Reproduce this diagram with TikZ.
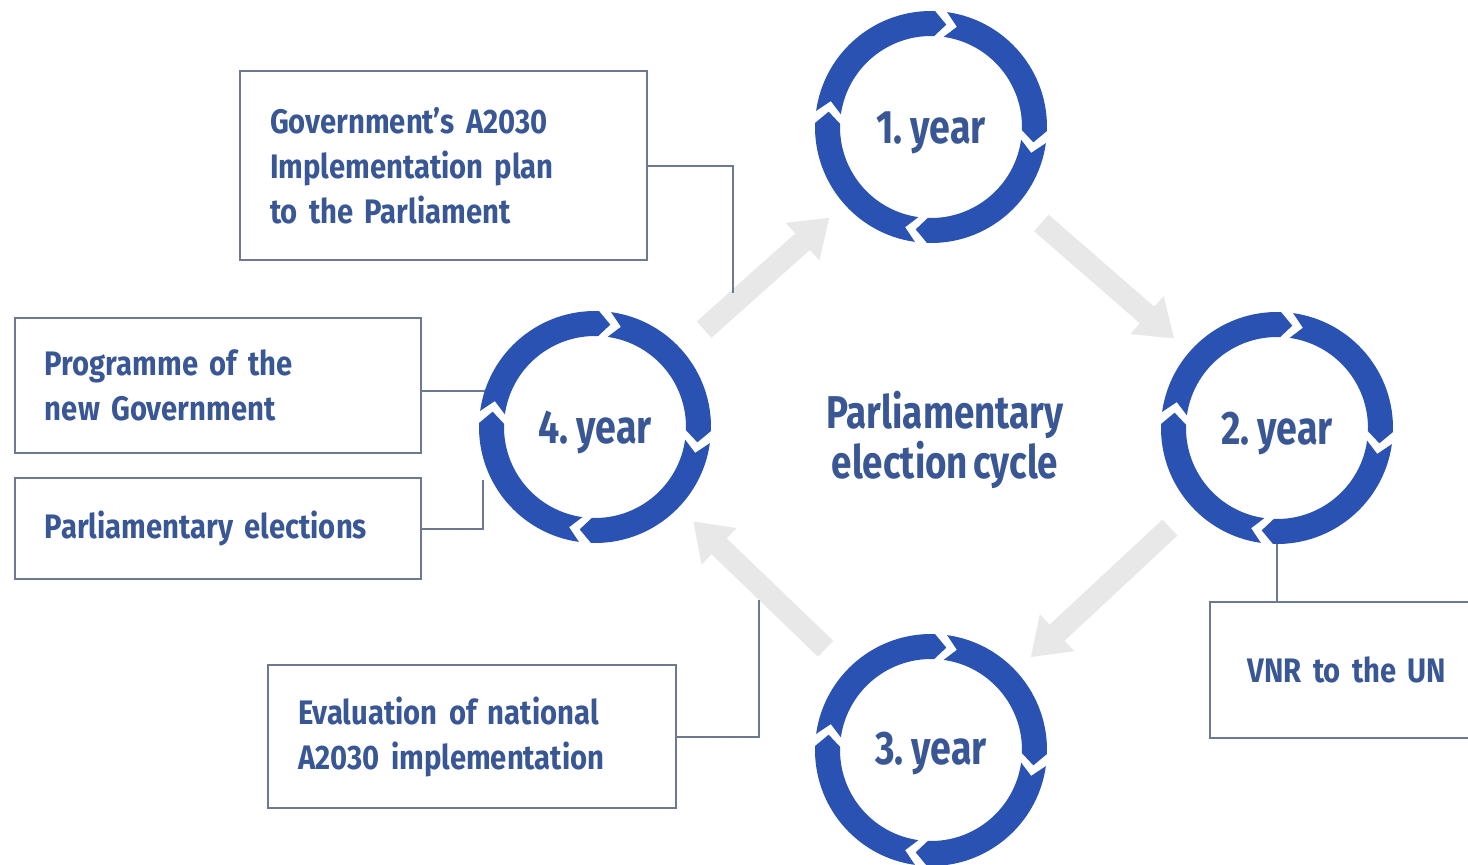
\documentclass[tikz,border=0pt]{standalone}
\usepackage{fontspec}
\setmainfont{Fira Sans}[FakeStretch=0.86, WordSpace=0.5]
\newfontfamily\bigfont{Fira Sans}[FakeStretch=0.8, WordSpace=0.55]
\usetikzlibrary{arrows.meta,calc}
\definecolor{ringblue}{HTML}{2952B3}
\definecolor{txtblue}{HTML}{3A5795}
\definecolor{boxline}{HTML}{6E7890}
\definecolor{arrowgray}{HTML}{E8E8E8}
\tikzset{
  ring/.pic={
    \foreach \g in {85,-5,-95,175}{
      \pgfmathsetmacro\s{\g-3}
      \pgfmathsetmacro\e{\g-90+3}
      \fill[ringblue] (\s:116pt) arc[start angle=\s, end angle=\e, radius=116pt]
        -- ({\e-6.5}:103.5pt) -- (\e:91pt) arc[start angle=\e, end angle=\s, radius=91pt]
        -- ({\s-6.5}:103.5pt) -- cycle;
    }
  },
  yearc/.style={circle, minimum size=232pt, inner sep=0pt},
  yearlabel/.style={anchor=base, text=txtblue, font=\bigfont\bfseries\fontsize{47}{50}\selectfont},
  centerlabel/.style={align=center, text=txtblue, font=\bigfont\bfseries\fontsize{46}{50}\selectfont},
  infobox/.style={draw=boxline, line width=2pt, fill=white, rectangle, inner xsep=30pt,
    inner ysep=0pt, align=left, text=txtblue, font=\bfseries\fontsize{34}{45}\selectfont},
  grayarr/.style={draw=arrowgray, line width=22pt, -{Triangle[length=36pt,width=48pt]},
    shorten <=30pt, shorten >=20pt},
  conn/.style={draw=boxline, line width=2pt}
}
\begin{document}
\begin{tikzpicture}[x=1pt,y=1pt]
\useasboundingbox[fill=white] (0,0) rectangle (1468,-865);
% year circles (geometry)
\node[yearc] (y1) at (931,-127) {};
\node[yearc] (y2) at (1277,-428) {};
\node[yearc] (y3) at (931,-750) {};
\node[yearc] (y4) at (595,-427) {};
% gray cycle arrows
\draw[grayarr] (y4) -- (y1);
\draw[grayarr] (y1) -- (y2);
\draw[grayarr] (y2) -- (y3);
\draw[grayarr] (y3) -- (y4);
% boxes
\node[infobox, minimum width=407pt, minimum height=189pt, text width=347pt] (b1) at (443.5,-165.5)
  {Government’s A2030\\Implementation plan\\to the Parliament};
\node[infobox, minimum width=406pt, minimum height=135pt, text width=346pt] (b2) at (218,-385.5)
  {Programme of the\\new Government};
\node[infobox, minimum width=406pt, minimum height=101pt, text width=346pt] (b3) at (218,-528.5)
  {Parliamentary elections};
\node[infobox, minimum width=408pt, minimum height=143pt, text width=348pt] (b4) at (472,-736.5)
  {Evaluation of national\\A2030 implementation};
\node[infobox, align=center, minimum width=274pt, minimum height=136pt, text width=214pt] (vnr) at (1347,-670)
  {VNR to the UN};
% connectors
\coordinate (k1) at (733,-293);
\coordinate (k3) at (483,-480);
\coordinate (k4) at (759,-600);
\draw[conn] (b1.east) -| (k1);
\draw[conn] ([yshift=-5pt]b2.east) -- ([yshift=-5pt,xshift=6pt]b2.east -| y4.west);
\draw[conn] (b3.east) -| (k3);
\draw[conn] (b4.east) -| (k4);
\draw[conn] (y2.south) -- (y2.south |- vnr.north);
% rings
\pic at (y1.center) {ring};
\pic at (y2.center) {ring};
\pic at (y3.center) {ring};
\pic at (y4.center) {ring};
% labels
\node[yearlabel] (l1) at ([yshift=-16pt]y1.center) {1. year};
\node[yearlabel] (l2) at ([yshift=-16pt]y2.center) {2. year};
\node[yearlabel] (l3) at ([yshift=-14pt]y3.center) {3. year};
\node[yearlabel] (l4) at ([yshift=-16pt]y4.center) {4. year};
\node[centerlabel] (cyc) at (945,-440) {Parliamentary\\election cycle};
\end{tikzpicture}
\end{document}
